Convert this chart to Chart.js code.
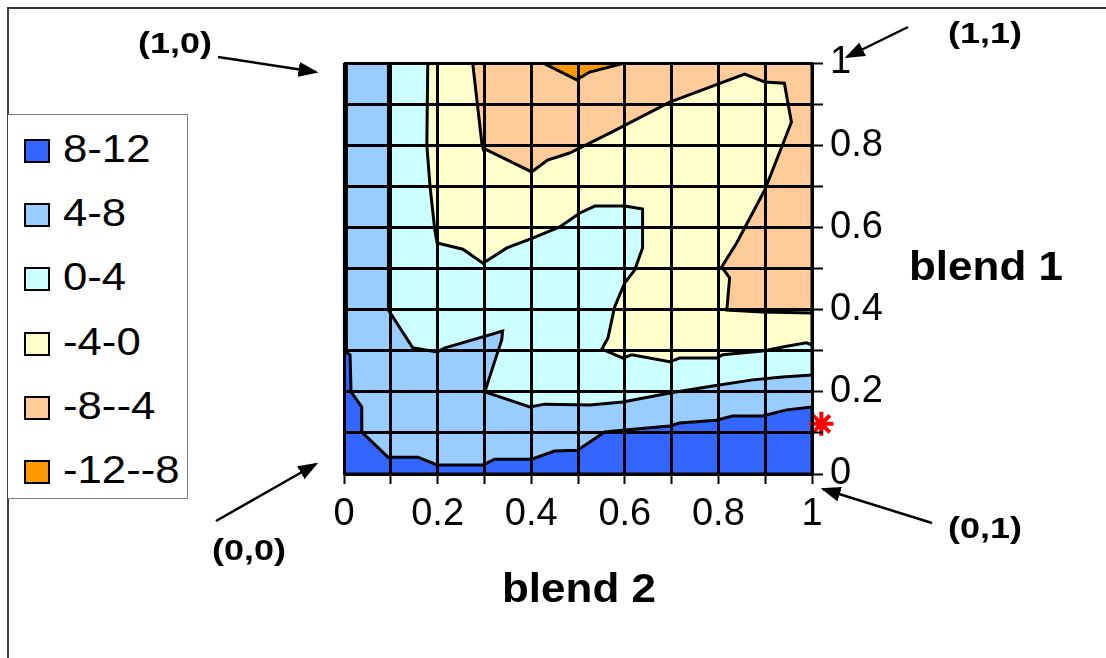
<!DOCTYPE html>
<html>
<head>
<meta charset="utf-8">
<script src="https://cdn.jsdelivr.net/npm/chart.js@4.4.1/dist/chart.umd.min.js"></script>
<style>
  body { margin: 0; background: #fff; overflow: hidden; font-family: "Liberation Sans", Arial, sans-serif; }
  #wrap { position: relative; width: 1106px; height: 658px; overflow: hidden; background: #fff; }
  #frame { position: absolute; left: 7px; top: 7px; width: 1200px; height: 800px; border: 2px solid #3a3a3a; }
  canvas { position: absolute; left: 0; top: 0; }
  .t { position: absolute; white-space: nowrap; line-height: 1; color: #000; }
  .c { transform: translate(-50%, -50%) scaleX(1.2); }
  .corner { font-weight: bold; font-size: 30px; }
  .title { font-weight: bold; font-size: 40px; transform: translate(-50%, -50%) scaleX(1.1); }
  #legend { position: absolute; left: 8px; top: 114px; width: 179px; height: 383px; border: 1.5px solid #808080; border-left: none; background: #fff; }
  .item { position: absolute; left: 0; height: 0; }
  .sw { position: absolute; left: 16px; top: -12px; width: 22px; height: 20px; border: 2px solid #000; }
  .lt { position: absolute; left: 55px; top: 0; font-size: 38px; line-height: 1; white-space: nowrap;
        transform-origin: left center; transform: translateY(-54%) scaleX(1.15); }
  svg { position: absolute; left: 0; top: 0; }
</style>
</head>
<body>
<div id="wrap">
  <div id="frame"></div>
  <canvas id="contour" width="1106" height="658"></canvas>
  <div id="legend"></div>
  <div class="t c corner" style="left:175px; top:43px;">(1,0)</div>
  <div class="t c corner" style="left:985px; top:33px;">(1,1)</div>
  <div class="t c corner" style="left:249px; top:550px;">(0,0)</div>
  <div class="t c corner" style="left:985px; top:528px;">(0,1)</div>
  <div class="t title" style="left:579px; top:588px;">blend 2</div>
  <div class="t title" style="left:986px; top:266px;">blend 1</div>
  <svg width="1106" height="658">
    <defs>
      <marker id="ah" markerWidth="8" markerHeight="6" refX="7" refY="3" orient="auto" markerUnits="strokeWidth">
        <path d="M0,0 L8,3 L0,6 z" fill="#000"/>
      </marker>
    </defs>
    <g stroke="#000" stroke-width="2.5" marker-end="url(#ah)">
      <line x1="218" y1="57" x2="316" y2="72"/>
      <line x1="908" y1="27" x2="847" y2="57"/>
      <line x1="216" y1="521" x2="316" y2="464"/>
      <line x1="932" y1="523" x2="823" y2="489"/>
    </g>
  </svg>
</div>
<script>
/* --------------- tick labels and levels --------------- */
const tickLabels = ["0", "", "0.2", "", "0.4", "", "0.6", "", "0.8", "", "1"];
const levelLabels = ["8-12", "4-8", "0-4", "-4-0", "-8--4", "-12--8"];
const levelColors = ["#3366FF", "#99CCFF", "#CCFFFF", "#FFFFCC", "#FFCC99", "#FF9900"];

/* --------------- contour regions, points are [blend 2, blend 1] --------------- */
const area4to8 = [[0, 0], [1, 0], [1, 1], [0, 1], [0, 0]];
const area0to4 = [[0.095, 1], [0.095, 0.399], [0.147, 0.307], [0.199, 0.297], [0.216, 0.307], [0.339, 0.348],
  [0.337, 0.326], [0.318, 0.26], [0.301, 0.2], [0.397, 0.163], [0.429, 0.17], [0.525, 0.168], [0.596, 0.175],
  [0.696, 0.197], [0.788, 0.214], [0.873, 0.229], [0.937, 0.236], [1, 0.241], [1, 1], [0.095, 1]];
const areaM4to0 = [[0.179, 1], [0.177, 0.8], [0.184, 0.698], [0.194, 0.594], [0.199, 0.562], [0.254, 0.547],
  [0.297, 0.513], [0.348, 0.55], [0.403, 0.574], [0.461, 0.601], [0.504, 0.635], [0.536, 0.652], [0.6, 0.652],
  [0.638, 0.645], [0.638, 0.55], [0.621, 0.496], [0.6, 0.465], [0.578, 0.406], [0.564, 0.331], [0.551, 0.304],
  [0.596, 0.282], [0.615, 0.29], [0.696, 0.273], [0.717, 0.282], [0.796, 0.282], [0.809, 0.29], [0.894, 0.299],
  [0.937, 0.309], [0.988, 0.319], [1, 0.314], [1, 1], [0.179, 1]];
const areaM8toM4 = [[0.275, 1], [0.295, 0.8], [0.297, 0.793], [0.401, 0.735], [0.435, 0.764], [0.482, 0.781],
  [0.572, 0.832], [0.696, 0.905], [0.856, 0.973], [0.899, 0.954], [0.941, 0.951], [0.956, 0.856], [0.899, 0.691],
  [0.839, 0.562], [0.807, 0.504], [0.824, 0.477], [0.818, 0.399], [0.894, 0.394], [1, 0.392], [1, 1], [0.275, 1]];
const areaM12toM8 = [[0.425, 1], [0.497, 0.959], [0.525, 0.978], [0.6, 1], [0.425, 1]];
const area8to12 = [[0, 0.3], [0.013, 0.29], [0.015, 0.2], [0.038, 0.163], [0.038, 0.102], [0.094, 0.041],
  [0.158, 0.041], [0.199, 0.022], [0.297, 0.022], [0.322, 0.036], [0.401, 0.036], [0.45, 0.056], [0.499, 0.058],
  [0.557, 0.102], [0.6, 0.107], [0.696, 0.117], [0.717, 0.124], [0.796, 0.131], [0.83, 0.141], [0.894, 0.141],
  [0.946, 0.156], [1, 0.163], [1, 0], [0, 0], [0, 0.3]];
const edgeLine = [[0.003, 1], [0.003, 0.3]];
const markPoint = [[1.02, 0.122]];

/* --------------- legend --------------- */
const legend = document.getElementById("legend");
levelLabels.forEach((lab, i) => {
  const row = document.createElement("div");
  row.className = "item";
  row.style.top = (36 + i * 64.2) + "px";
  row.innerHTML = '<div class="sw" style="background:' + levelColors[i] + '"></div><div class="lt">' + lab + "</div>";
  legend.appendChild(row);
});

/* --------------- datasets, bottom layer first --------------- */
const toXY = (arr) => arr.map((p) => ({ x: p[0], y: p[1] }));
const layers = [
  [area4to8, 1, 0],
  [area0to4, 2, 3],
  [areaM4to0, 3, 3],
  [areaM8toM4, 4, 3],
  [areaM12toM8, 5, 3],
  [area8to12, 0, 3],
];
const datasets = layers.map(([pts, c, bw], i) => ({
  data: toXY(pts),
  showLine: true,
  fill: "shape",
  backgroundColor: levelColors[c],
  borderColor: "#000",
  borderWidth: bw,
  pointRadius: 0,
  tension: 0,
  order: 20 - i,
}));
datasets.push({
  data: toXY(edgeLine), showLine: true, fill: false, borderColor: "#000", borderWidth: 5,
  pointRadius: 0, clip: false, order: 2,
});
datasets.push({
  data: toXY(markPoint), showLine: false, pointStyle: "star", pointRadius: 12,
  borderColor: "#FF0000", backgroundColor: "#FF0000", borderWidth: 4, clip: false, order: 1,
});

const tickFont = { family: "Liberation Sans", size: 38 };

new Chart(document.getElementById("contour"), {
  type: "scatter",
  data: { datasets },
  options: {
    responsive: false,
    animation: false,
    layout: { padding: { left: 344, top: 63, right: 214, bottom: 114 } },
    plugins: { legend: { display: false }, tooltip: { enabled: false } },
    scales: {
      x: {
        type: "linear", min: 0, max: 1, position: "bottom",
        afterFit: (s) => { s.height = 70; },
        grid: { color: "#000", lineWidth: 3, tickLength: 10, tickWidth: 2, z: 1 },
        border: { color: "#000", width: 2, z: 2 },
        ticks: {
          stepSize: 0.1, autoSkip: false, maxRotation: 0, padding: 8, color: "#000", font: tickFont,
          callback: (v) => tickLabels[Math.round(v * 10)],
        },
      },
      y: {
        type: "linear", min: 0, max: 1, position: "right",
        afterFit: (s) => { s.width = 80; },
        grid: { color: "#000", lineWidth: 3, tickLength: 11, tickWidth: 2, z: 1 },
        border: { color: "#000", width: 2, z: 2 },
        ticks: {
          stepSize: 0.1, autoSkip: false, padding: 7, color: "#000", font: tickFont,
          callback: (v) => tickLabels[Math.round(v * 10)],
        },
      },
    },
  },
});
</script>
</body>
</html>
